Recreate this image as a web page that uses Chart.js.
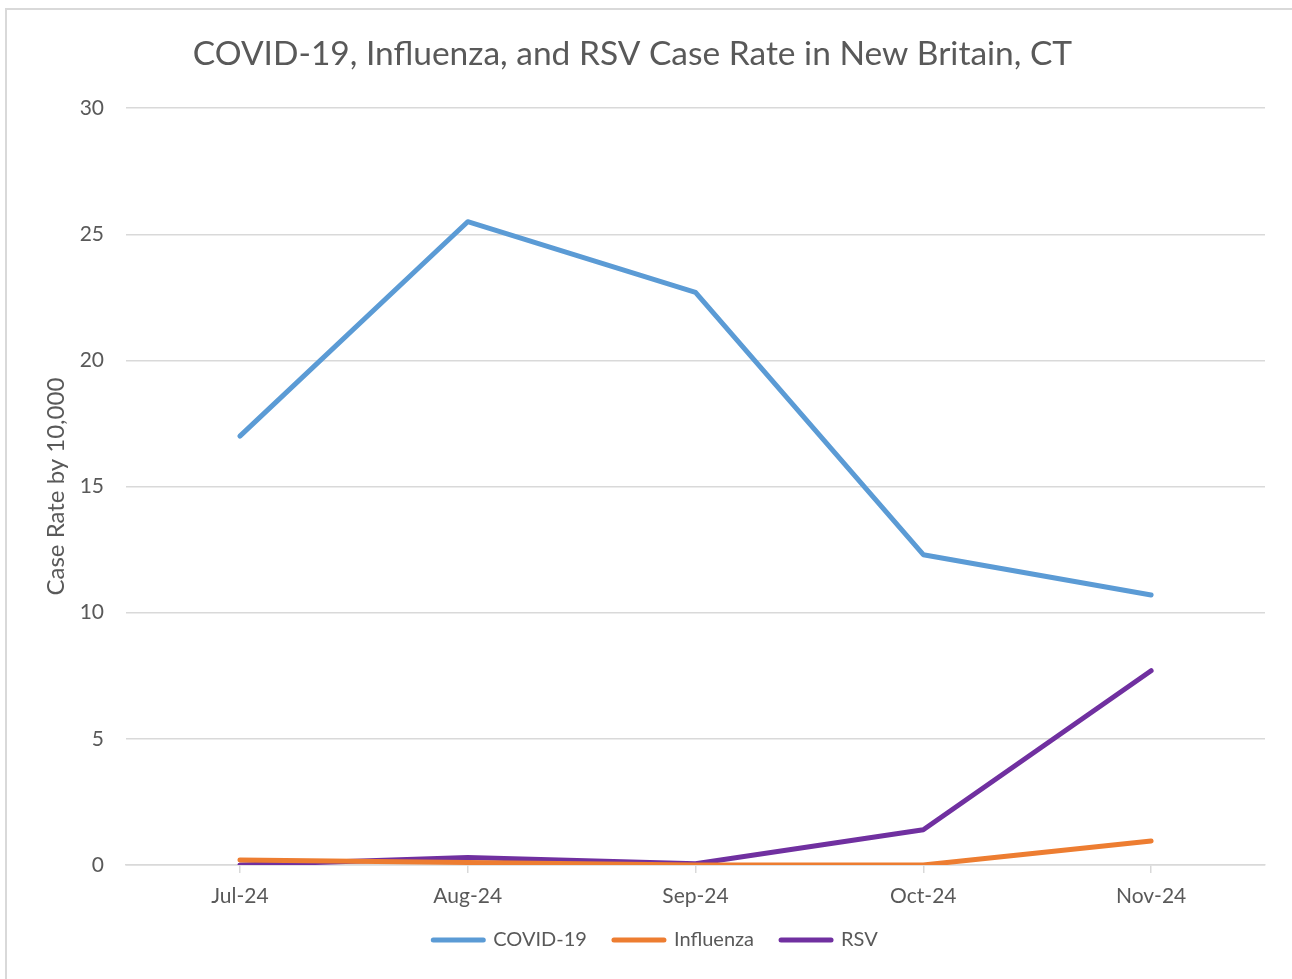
<!DOCTYPE html>
<html>
<head>
<meta charset="utf-8">
<script src="https://cdn.jsdelivr.net/npm/chart.js@4/dist/chart.umd.min.js"></script>
<style>
  html, body { margin: 0; padding: 0; background: #fff; }
  #frame {
    position: absolute; left: 5px; top: 8px; width: 1400px; height: 1100px;
    border: 2px solid #d9d9d9; box-sizing: border-box;
  }
  #wrap { position: absolute; left: 0; top: 0; width: 1292px; height: 979px; }
</style>
</head>
<body>
<div id="frame"></div>
<div id="wrap"><canvas id="caseRate"></canvas></div>
<script>
const months = ['Jul-24', 'Aug-24', 'Sep-24', 'Oct-24', 'Nov-24'];
const covid = [17.0, 25.5, 22.7, 12.3, 10.7];
const influenza = [0.2, 0.1, 0.0, 0.0, 0.95];
const rsv = [0.0, 0.3, 0.05, 1.4, 7.7];

const grey = '#595959';
const gridGrey = '#d9d9d9';
const fontName = 'Lato, "Open Sans", sans-serif';

function series(label, values, color) {
  return {
    label: label,
    data: values,
    borderColor: color,
    backgroundColor: color,
    borderWidth: 5,
    pointRadius: 0,
    pointHoverRadius: 0,
    tension: 0,
    borderCapStyle: 'round',
    borderJoinStyle: 'round'
  };
}

// nudge the legend a bit right and up, like the original
const legendShift = {
  id: 'legendShift',
  afterLayout(chart) {
    const lg = chart.legend;
    lg.left += 23;
    lg.right += 23;
    lg.top -= 4;
    lg.bottom -= 4;
  }
};

const ctx = document.getElementById('caseRate');
new Chart(ctx, {
  type: 'line',
  data: {
    labels: months,
    datasets: [
      series('COVID-19', covid, '#5b9bd5'),
      series('Influenza', influenza, '#ed7d31'),
      series('RSV', rsv, '#7030a0')
    ]
  },
  options: {
    responsive: true,
    maintainAspectRatio: false,
    animation: false,
    layout: { padding: { left: 0, right: 27, top: 0, bottom: 15 } },
    plugins: {
      title: {
        display: true,
        text: 'COVID-19, Influenza, and RSV Case Rate in New Britain, CT',
        color: grey,
        font: { family: fontName, size: 33.5, weight: 'normal' },
        padding: { top: 34, bottom: 34 }
      },
      legend: {
        position: 'bottom',
        labels: {
          color: grey,
          font: { family: fontName, size: 20 },
          boxWidth: 50,
          boxHeight: 0,
          padding: 27
        }
      },
      tooltip: { enabled: false }
    },
    scales: {
      x: {
        offset: true,
        grid: {
          display: true,
          drawOnChartArea: false,
          drawTicks: true,
          tickLength: 8,
          color: gridGrey,
          lineWidth: 1.5
        },
        border: { display: true, color: gridGrey, width: 1.5 },
        ticks: { color: grey, font: { family: fontName, size: 21 }, padding: 11, maxRotation: 0 },
        afterFit: (axis) => { axis.height = 42; }
      },
      y: {
        min: 0,
        max: 30,
        ticks: { stepSize: 5, color: grey, font: { family: fontName, size: 21 }, padding: 22 },
        grid: { color: gridGrey, lineWidth: 1.5, drawTicks: false },
        border: { display: false },
        title: {
          display: true,
          text: 'Case Rate by 10,000',
          color: grey,
          font: { family: fontName, size: 24, weight: 'normal' },
          padding: { top: 42, bottom: 0 }
        },
        afterFit: (axis) => { axis.width = 126; }
      }
    }
  },
  plugins: [legendShift]
});
</script>
</body>
</html>
